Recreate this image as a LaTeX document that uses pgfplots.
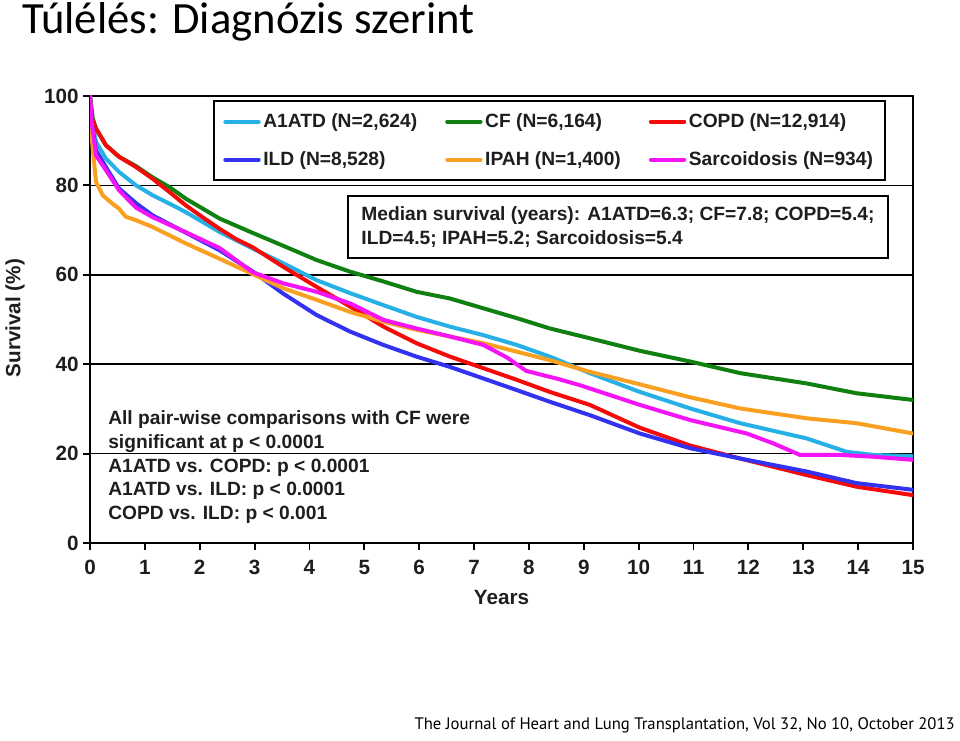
\documentclass[border=0pt]{standalone}
\usepackage{fontspec}
\setmainfont{Liberation Sans}
\newfontfamily\titlefont{Carlito}
\newfontfamily\footfont{PT Sans}
\usepackage{pgfplots}
\pgfplotsset{compat=1.18}

\definecolor{cAATD}{RGB}{38,176,230}
\definecolor{cCF}{RGB}{16,128,16}
\definecolor{cCOPD}{RGB}{245,10,10}
\definecolor{cILD}{RGB}{50,50,240}
\definecolor{cIPAH}{RGB}{250,160,32}
\definecolor{cSARC}{RGB}{245,20,245}
\definecolor{txt}{RGB}{30,30,30}

\begin{document}
\begin{tikzpicture}[x=0.75pt,y=0.75pt]
\path[use as bounding box] (0,0) rectangle (960,740);

% title and source line
\node[anchor=base west, inner sep=0, font=\titlefont\fontsize{33.5}{40}\selectfont] at (22,706) {Túlélés: Diagnózis szerint};
\node[anchor=base east, inner sep=0, font=\footfont\fontsize{12.5}{15}\selectfont] at (955,11) {The Journal of Heart and Lung Transplantation, Vol 32, No 10, October 2013};

\begin{axis}[
    at={(67.5pt,147.75pt)}, anchor=south west,
    scale only axis, width=617.25pt, height=335.25pt,
    xmin=0, xmax=15, ymin=0, ymax=100,
    xtick={0,1,...,15}, ytick={0,20,...,100},
    xtick pos=bottom, ytick pos=left,
    tick align=outside, major tick length=5pt,
    ymajorgrids, grid style={black, line width=1.2pt},
    axis line style={black, line width=1.4pt},
    tick style={black, line width=1.4pt},
    /pgf/number format/assume math mode=true,
    ticklabel style={font=\fontsize{15.5}{18}\selectfont\bfseries, text=txt},
    xticklabel style={yshift=-4.5pt},
    xlabel={Years}, ylabel={Survival (\%)},
    label style={font=\fontsize{15.5}{18}\selectfont\bfseries, text=txt},
    xlabel style={at={(axis description cs:0.5,-0.1208)}, anchor=center},
    ylabel style={at={(axis description cs:-0.0911,0.503)}, anchor=center},
    every axis plot/.append style={line width=3pt, line cap=round, line join=round},
    legend image code/.code={\draw[#1] (0pt,0pt) -- (25pt,0pt);},
    legend columns=3,
    legend cell align=left,
    legend style={at={(rel axis cs:0.1495,0.991)}, anchor=north west,
        draw=black, line width=1.5pt, fill=white,
        inner xsep=7pt, inner ysep=7.5pt, row sep=12.5pt,
        font=\fontsize{14.4}{17}\selectfont\bfseries, text=txt,
        /tikz/every even column/.append style={column sep=19pt}},
]
% A1ATD
\addplot[cAATD] coordinates {(0,100) (0.04,94) (0.11,89.7) (0.29,86.0) (0.53,83.0) (0.84,80.0) (1.14,77.8) (1.45,75.9) (1.75,74.0) (2.36,69.6) (2.96,65.9) (3.52,62.6) (4.13,58.8) (4.74,55.9) (5.35,53.2) (5.95,50.6) (6.56,48.4) (7.17,46.5) (7.78,44.3) (8.38,41.7) (9.11,38.0) (10.02,33.8) (10.94,30.1) (11.85,26.8) (13.06,23.4) (13.79,20.4) (14.28,19.7) (15,19.4)};
\addlegendentry{A1ATD (N=2,624)}
% CF
\addplot[cCF] coordinates {(0,100) (0.05,95) (0.11,92.7) (0.29,89.0) (0.53,86.4) (0.84,84.3) (1.14,81.8) (1.45,79.6) (1.75,77.0) (2.36,72.6) (2.96,69.4) (3.52,66.5) (4.13,63.3) (4.74,60.7) (5.35,58.5) (5.95,56.2) (6.56,54.7) (7.17,52.5) (7.78,50.3) (8.38,48.0) (9.11,45.8) (10.02,43.0) (10.94,40.6) (11.85,38.0) (13.06,35.7) (13.97,33.5) (15,32.0)};
\addlegendentry{CF (N=6,164)}
% COPD
\addplot[cCOPD] coordinates {(0,100) (0.03,95) (0.11,92.7) (0.29,89.0) (0.53,86.4) (0.84,84.1) (1.14,81.5) (1.45,78.5) (1.75,75.5) (2.05,72.9) (2.36,70.3) (2.66,68.0) (2.96,66.2) (3.52,61.8) (4.13,57.3) (4.74,52.9) (5.35,48.4) (5.95,44.7) (6.56,41.7) (7.17,39.1) (7.78,36.5) (8.38,33.8) (9.11,30.9) (10.02,25.8) (10.94,21.8) (11.85,18.9) (13.06,15.2) (13.97,12.6) (15,10.7)};
\addlegendentry{COPD (N=12,914)}
% ILD
\addplot[cILD] coordinates {(0,100) (0.03,94) (0.11,87.8) (0.29,84.1) (0.53,79.3) (0.84,76.0) (1.14,73.3) (1.75,69.4) (2.36,65.5) (2.96,60.8) (3.52,55.8) (4.13,51.0) (4.74,47.3) (5.35,44.3) (5.95,41.7) (6.56,39.4) (7.17,36.8) (7.78,34.2) (8.38,31.6) (9.11,28.6) (10.02,24.5) (10.94,21.2) (11.85,18.9) (13.06,16.0) (13.97,13.4) (15,11.9)};
\addlegendentry{ILD (N=8,528)}
% IPAH
\addplot[cIPAH] coordinates {(0,100) (0.02,93) (0.05,88.2) (0.11,80.8) (0.23,77.8) (0.41,75.9) (0.53,74.8) (0.65,73.0) (0.84,72.2) (1.14,70.7) (1.75,67.0) (2.36,63.6) (2.96,60.2) (3.52,57.0) (4.13,54.4) (4.74,51.7) (5.35,49.5) (5.95,47.7) (6.56,46.2) (7.17,44.7) (7.78,42.8) (8.38,40.9) (9.11,38.3) (10.02,35.5) (10.94,32.6) (11.85,30.1) (13.06,27.9) (13.97,26.8) (15,24.5)};
\addlegendentry{IPAH (N=1,400)}
% Sarcoidosis
\addplot[cSARC] coordinates {(0,100) (0.03,94) (0.11,86.7) (0.29,83.4) (0.53,78.9) (0.84,75.0) (1.14,72.9) (1.75,69.5) (2.36,66.0) (2.96,60.6) (3.52,58.1) (4.13,56.2) (4.74,53.6) (5.35,49.9) (5.95,48.0) (6.56,46.2) (7.17,44.3) (7.6,41.5) (7.95,38.5) (8.5,36.8) (8.93,35.3) (10.02,30.9) (10.94,27.5) (11.97,24.5) (12.45,22.3) (12.94,19.7) (13.67,19.7) (14.28,19.3) (15,18.6)};
\addlegendentry{Sarcoidosis (N=934)}

% median survival box
\node[draw=black, line width=1.5pt, fill=white, anchor=north west,
      inner xsep=9pt, inner ysep=0pt, minimum width=405pt, minimum height=46.5pt,
      align=left, text=txt, font=\fontsize{14.4}{18}\selectfont\bfseries]
  at (rel axis cs:0.3123,0.7785)
  {Median survival (years): A1ATD=6.3; CF=7.8; COPD=5.4;\\ILD=4.5; IPAH=5.2; Sarcoidosis=5.4};

% comparison notes
\begin{scope}[every node/.style={anchor=base west, inner sep=0, text=txt, font=\fontsize{14.4}{17}\selectfont\bfseries}]
\node at (rel axis cs:0.0219,0.2640) {All pair-wise comparisons with CF were};
\node at (rel axis cs:0.0219,0.2114) {significant at p < 0.0001};
\node at (rel axis cs:0.0219,0.1588) {A1ATD vs. COPD: p < 0.0001};
\node at (rel axis cs:0.0219,0.1063) {A1ATD vs. ILD: p < 0.0001};
\node at (rel axis cs:0.0219,0.0537) {COPD vs. ILD: p < 0.001};
\end{scope}
\end{axis}
\end{tikzpicture}
\end{document}
